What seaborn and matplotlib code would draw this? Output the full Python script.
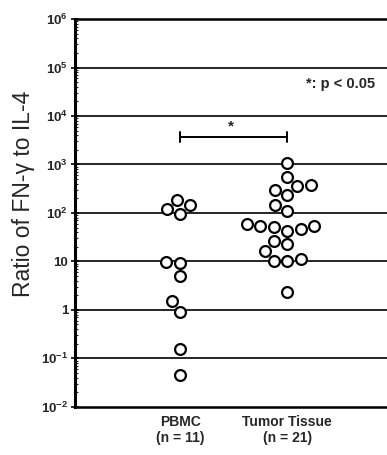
import matplotlib
matplotlib.use("Agg")
import matplotlib.pyplot as plt
import seaborn as sns
import pandas as pd
import numpy as np
from matplotlib.ticker import FixedLocator, FuncFormatter, LogLocator

sns.set_theme(style="white")
plt.rcParams['font.family'] = ['Liberation Sans', 'DejaVu Sans']
plt.rcParams['mathtext.default'] = 'regular'

categories = ["PBMC\n(n = 11)", "Tumor Tissue\n(n = 21)"]
pbmc_values = [182, 146, 119, 94, 9.4, 9.9, 5.0, 1.5, 0.92, 0.155, 0.046]
tumor_values = [1090, 550, 295, 360, 370, 235, 110, 145,
                51, 46, 54, 59, 54, 43, 23, 26, 16.5, 10.2, 10, 11, 2.3]
ytick_values = [1e-2, 1e-1, 1, 10, 1e2, 1e3, 1e4, 1e5, 1e6]
sig_label = "*"
p_note = "*: p < 0.05"
ylabel = "Ratio of FN-\u03b3 to IL-4"

df = pd.DataFrame({
    "group": [categories[0]] * len(pbmc_values) + [categories[1]] * len(tumor_values),
    "ratio": pbmc_values + tumor_values,
})

fig = plt.figure(figsize=(3.87, 4.55), dpi=100)
ax = fig.add_axes([0.194, 0.106, 0.806, 0.852])
ax.set_yscale('log')
ax.set_ylim(1e-2, 1e6)
ax.set_xlim(-0.98, 1.93)

sns.swarmplot(data=df, x="group", y="ratio", order=categories, ax=ax,
              size=7.8, color="white", edgecolor="black", linewidth=1.6,
              zorder=3)
ax.set_ylim(1e-2, 1e6)
ax.set_xlim(-0.98, 1.93)

# gridlines at decades
for v in ytick_values[1:-1]:
    ax.axhline(v, color="black", lw=1.2, zorder=1)

ax.yaxis.set_major_locator(FixedLocator(ytick_values))
def fmt(v, pos):
    e = int(round(np.log10(v)))
    if e == 0:
        return "1"
    if e == 1:
        return "10"
    return r"$10^{%d}$" % e
ax.yaxis.set_major_formatter(FuncFormatter(fmt))
ax.yaxis.set_minor_locator(LogLocator(base=10, subs=np.arange(2, 10), numticks=100))
ax.tick_params(axis='y', which='major', direction='inout', length=6, width=1.4,
               labelsize=9.5, left=True, pad=2)
ax.tick_params(axis='y', which='minor', direction='in', length=2.5, width=0.8, left=True)
for lab in ax.get_yticklabels():
    lab.set_fontweight('bold')
ax.tick_params(axis='x', length=0, labelsize=10, pad=6)
for lab in ax.get_xticklabels():
    lab.set_fontweight('bold')

for s in ["left", "bottom", "top"]:
    ax.spines[s].set_visible(True)
    ax.spines[s].set_color("black")
ax.spines["left"].set_linewidth(2.2)
ax.spines["bottom"].set_linewidth(1.8)
ax.spines["top"].set_linewidth(1.8)
ax.spines["right"].set_visible(False)

ax.set_xlabel("")
ax.set_ylabel(ylabel, fontsize=16.5)
ax.yaxis.set_label_coords(-0.13, 0.55)

# significance bracket
ybr = 3700
ax.plot([0, 1], [ybr, ybr], color="black", lw=1.4, zorder=4)
ax.plot([0, 0], [ybr / 1.25, ybr * 1.25], color="black", lw=1.4, zorder=4)
ax.plot([1, 1], [ybr / 1.25, ybr * 1.25], color="black", lw=1.4, zorder=4)
ax.text(0.47, ybr * 1.2, sig_label, ha="center", va="bottom", fontsize=11, fontweight='bold')
ax.text(1.17, 4.6e4, p_note, ha="left", va="center", fontsize=10.5, fontweight='bold')

fig.savefig("out.png", dpi=100)
